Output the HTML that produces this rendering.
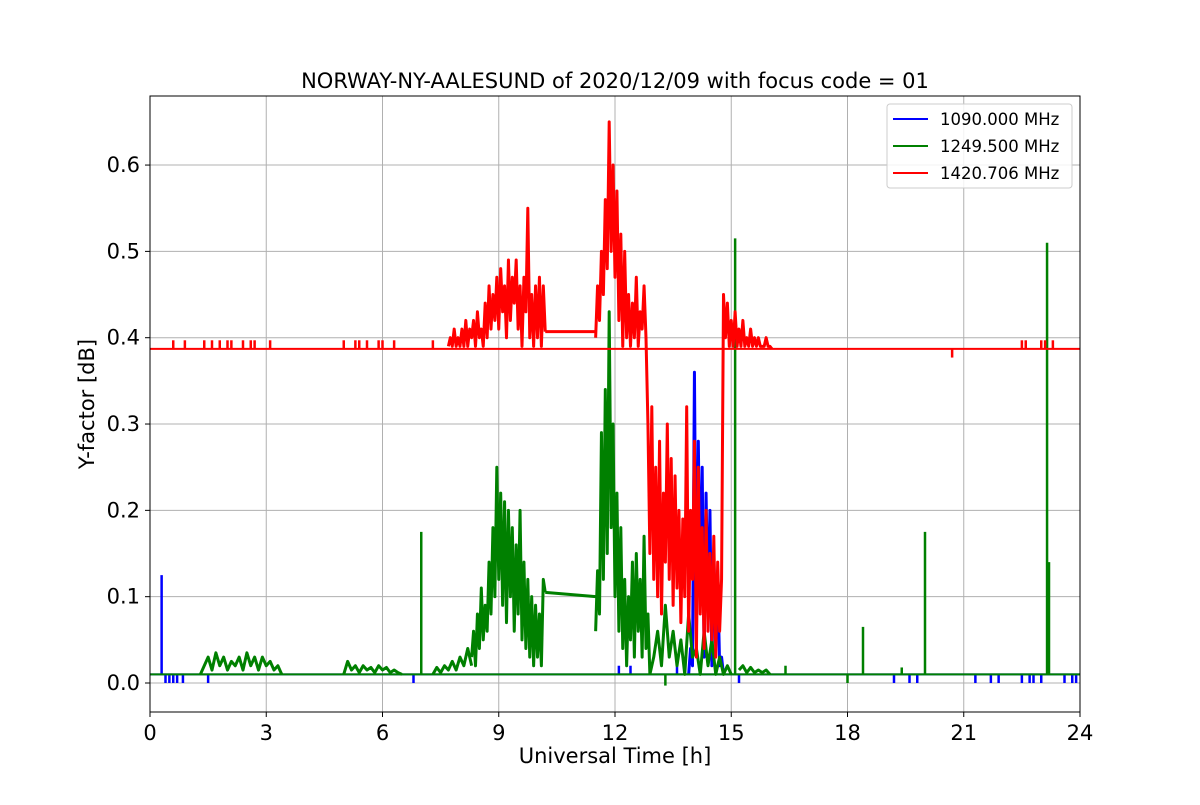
<!DOCTYPE html>
<html><head><meta charset="utf-8"><style>
body{margin:0;background:#fff;}
svg text{font-family:"DejaVu Sans","Liberation Sans",sans-serif;}
</style></head><body>
<svg id="chart" width="1200" height="800" viewBox="0 0 1200 800" xmlns="http://www.w3.org/2000/svg">
<rect width="1200" height="800" fill="#fff"/>
<g id="grid"></g>
<g id="series"></g>
<rect x="150" y="96" width="930" height="616" fill="none" stroke="#000" stroke-width="1"/>
<g id="ticks"></g>
<text x="615" y="88" font-size="21" text-anchor="middle">NORWAY-NY-AALESUND of 2020/12/09 with focus code = 01</text>
<text x="615" y="763" font-size="21" text-anchor="middle">Universal Time [h]</text>
<text transform="translate(94,404) rotate(-90)" font-size="21" text-anchor="middle">Y-factor [dB]</text>
<g>
<rect x="887" y="104" width="185" height="84" rx="3" fill="#fff" fill-opacity="0.85" stroke="#ccc"/>
<g><line x1="893" y1="119" x2="928" y2="119" stroke="blue" stroke-width="2"/><text x="940" y="125" font-size="16.5">1090.000 MHz</text></g>
<g><line x1="893" y1="146" x2="928" y2="146" stroke="green" stroke-width="2"/><text x="940" y="152" font-size="16.5">1249.500 MHz</text></g>
<g><line x1="893" y1="173" x2="928" y2="173" stroke="red" stroke-width="2"/><text x="940" y="179" font-size="16.5">1420.706 MHz</text></g>
</g>
</svg>
<script>
const xTicks=[0,3,6,9,12,15,18,21,24];
const yTicks=[0,0.1,0.2,0.3,0.4,0.5,0.6];
const yTickLabels=["0.0","0.1","0.2","0.3","0.4","0.5","0.6"];
// blue 1090 MHz
const blueBase=0.01;
const blueSpikesT=[0.3,12.1,12.4,13.6];
const blueSpikesV=[0.125,0.02,0.02,0.02];
const blueDipsT=[0.4,0.5,0.6,0.7,0.85,1.5,6.8,15.2,19.2,19.6,19.8,21.3,21.7,21.9,22.5,22.7,22.8,23.0,23.6,23.8,23.9];
const blueSegStart=[13.9];
const blueSegStep=[0.05];
const blueSegVals=[[0.01,0.04,0.02,0.36,0.05,0.28,0.10,0.25,0.03,0.22,0.08,0.20,0.02,0.15,0.05,0.12,0.02,0.03,0.01]];
// green 1249.5 MHz
const greenBase=0.01;
const greenSpikesT=[7.0,15.1,16.4,18.4,19.4,20.0,23.15,23.2,13.3,18.0];
const greenSpikesV=[0.175,0.515,0.02,0.065,0.018,0.175,0.51,0.14,-0.003,0.0];
const greenSegStart=[1.3,5.0,7.3,8.3,10.2,11.5,12.9,15.2];
const greenSegStep=[0.1,0.1,0.1,0.05,1.3,0.05,0.1,0.1];
const greenSegVals=[
[0.01,0.02,0.03,0.015,0.035,0.02,0.03,0.015,0.025,0.02,0.03,0.015,0.035,0.02,0.03,0.015,0.03,0.02,0.025,0.015,0.02,0.01],
[0.01,0.025,0.015,0.02,0.012,0.02,0.015,0.018,0.012,0.02,0.015,0.018,0.012,0.015,0.012,0.01],
[0.01,0.018,0.012,0.02,0.015,0.025,0.015,0.03,0.02,0.04,0.02],
[0.03,0.06,0.02,0.08,0.04,0.11,0.05,0.09,0.06,0.14,0.08,0.18,0.10,0.25,0.12,0.22,0.09,0.21,0.07,0.20,0.10,0.18,0.06,0.16,0.08,0.20,0.05,0.14,0.04,0.12,0.03,0.10,0.02,0.09,0.03,0.08,0.02,0.12,0.105],
[0.105,0.10],
[0.06,0.13,0.08,0.29,0.12,0.34,0.15,0.43,0.18,0.30,0.10,0.22,0.06,0.18,0.04,0.12,0.02,0.10,0.05,0.14,0.03,0.15,0.06,0.12,0.03,0.17,0.04,0.08,0.01],
[0.01,0.03,0.06,0.02,0.09,0.03,0.06,0.02,0.05,0.01,0.08,0.03,0.04,0.01,0.06,0.02,0.05,0.01,0.03,0.01,0.02,0.01],
[0.015,0.02,0.012,0.018,0.012,0.015,0.012,0.015,0.01]
];
// red 1420.706 MHz
const redBase=0.387;
const redSpikesT=[0.6,0.9,1.4,1.6,1.8,2.0,2.1,2.4,2.6,2.7,3.1,5.0,5.3,5.4,5.6,5.9,6.0,6.3,7.3,20.7,22.5,22.6,23.0,23.1,23.3];
const redSpikesV=[0.397,0.397,0.397,0.397,0.397,0.397,0.397,0.397,0.397,0.397,0.397,0.397,0.397,0.397,0.397,0.397,0.397,0.397,0.397,0.377,0.397,0.397,0.397,0.397,0.397];
const redSegStart=[7.7,10.2,11.5];
const redSegStep=[0.05,1.3,0.05];
const redSegVals=[
[0.39,0.40,0.39,0.41,0.39,0.40,0.39,0.41,0.39,0.42,0.39,0.41,0.40,0.42,0.39,0.43,0.40,0.41,0.39,0.44,0.40,0.46,0.41,0.45,0.42,0.47,0.41,0.48,0.43,0.46,0.40,0.49,0.42,0.47,0.44,0.49,0.41,0.46,0.39,0.47,0.43,0.55,0.40,0.45,0.39,0.46,0.40,0.47,0.39,0.46,0.407],
[0.407,0.407],
[0.40,0.46,0.42,0.50,0.45,0.56,0.48,0.65,0.50,0.60,0.47,0.57,0.42,0.52,0.39,0.50,0.40,0.45,0.39,0.44,0.40,0.47,0.39,0.43,0.41,0.46,0.40,
 0.30,0.15,0.32,0.12,0.25,0.10,0.28,0.08,0.22,0.14,0.30,0.12,0.26,0.09,0.24,0.11,0.20,0.07,0.19,0.10,0.32,0.06,0.20,0.12,0.28,0.03,0.25,0.08,0.18,0.04,0.20,0.06,0.15,0.05,0.17,0.03,0.14,0.06,0.12,
 0.45,0.40,0.44,0.39,0.42,0.39,0.43,0.39,0.41,0.39,0.42,0.39,0.40,0.39,0.41,0.39,0.40,0.39,0.40,0.39,0.39,0.39,0.40,0.39,0.39,0.387]
];
const NS="http://www.w3.org/2000/svg";
const X0=150,X1=1080,Y0=712,Y1=96,YMIN=-0.0336,YMAX=0.68;
function sx(t){return X0+(t/24)*(X1-X0);}
function sy(v){return Y0-(v-YMIN)/(YMAX-YMIN)*(Y0-Y1);}
function mk(tag,attrs,parent){const e=document.createElementNS(NS,tag);for(const k in attrs)e.setAttribute(k,attrs[k]);parent.appendChild(e);return e;}
const grid=document.getElementById('grid'),ticks=document.getElementById('ticks'),ser=document.getElementById('series');
xTicks.forEach(t=>{
 const l=mk('line',{x1:sx(t),x2:sx(t),y1:Y1,y2:Y0,stroke:'#b0b0b0','stroke-width':1},grid);
 
 
 const tk=mk('line',{x1:sx(t),x2:sx(t),y1:Y0,y2:Y0+5,stroke:'#000'},ticks);
 
 
 const tx=mk('text',{x:sx(t),y:Y0+28,'font-size':21,'text-anchor':'middle'},ticks);tx.textContent=t;
 
 
});
yTicks.forEach((v,i)=>{
 const l=mk('line',{x1:X0,x2:X1,y1:sy(v),y2:sy(v),stroke:'#b0b0b0','stroke-width':1},grid);
 
 
 const tk=mk('line',{x1:X0-5,x2:X0,y1:sy(v),y2:sy(v),stroke:'#000'},ticks);
 
 
 const tx=mk('text',{x:X0-10,y:sy(v)+7,'font-size':21,'text-anchor':'end'},ticks);tx.textContent=yTickLabels[i];
 
 
});
function drawSeries(name,color,base,spT,spV,dips,segS,segD,segV){
 const g=mk('g',{},ser);
 
 
 const b=mk('line',{x1:sx(0),x2:sx(24),y1:sy(base),y2:sy(base),stroke:color,'stroke-width':2},g);
 
 
 spT.forEach((t,i)=>{
  const s=mk('line',{x1:sx(t),x2:sx(t),y1:sy(base),y2:sy(spV[i]),stroke:color,'stroke-width':2.5},g);
  
  
 });
 dips.forEach(t=>{
  const s=mk('line',{x1:sx(t),x2:sx(t),y1:sy(base),y2:sy(0),stroke:color,'stroke-width':2.5},g);
  
  
 });
 segS.forEach((st,k)=>{
  const pts=segV[k].map((v,i)=>sx(st+segD[k]*i).toFixed(2)+','+sy(v).toFixed(2)).join(' ');
  const p=mk('polyline',{points:pts,fill:'none',stroke:color,'stroke-width':3,'stroke-linejoin':'round'},g);
  
  
 });
}
drawSeries('blue-1090','blue',blueBase,blueSpikesT,blueSpikesV,blueDipsT,blueSegStart,blueSegStep,blueSegVals);
drawSeries('green-1249','green',greenBase,greenSpikesT,greenSpikesV,[],greenSegStart,greenSegStep,greenSegVals);
drawSeries('red-1420','red',redBase,redSpikesT,redSpikesV,[],redSegStart,redSegStep,redSegVals);
</script>
</body></html>
